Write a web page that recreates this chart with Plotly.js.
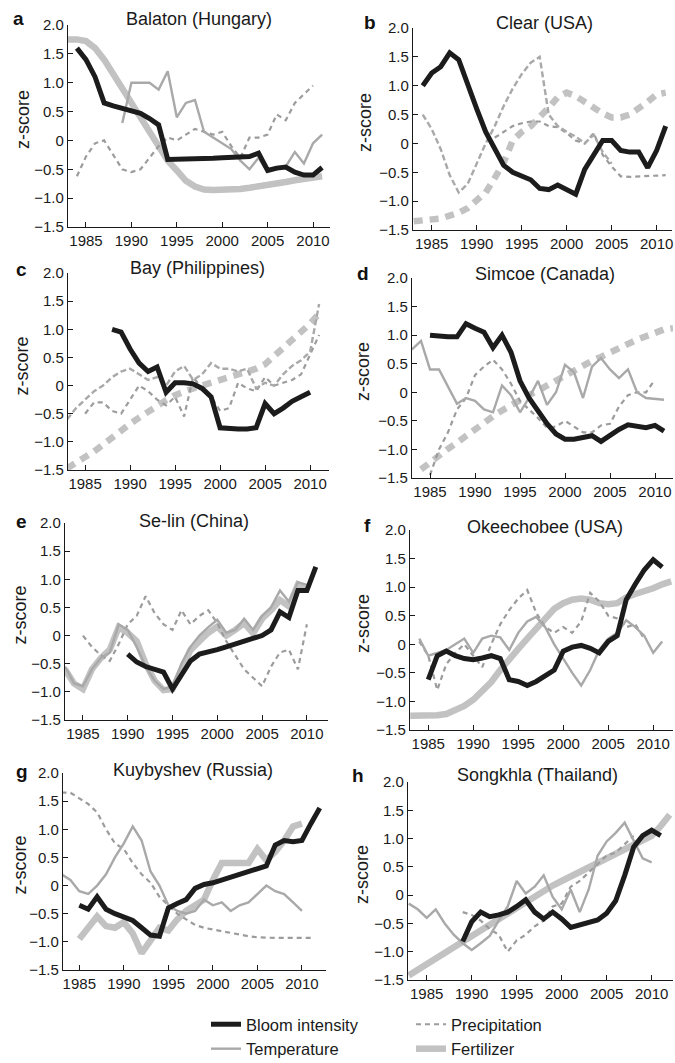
<!DOCTYPE html>
<html>
<head>
<meta charset="utf-8">
<script src="https://cdn.plot.ly/plotly-3.0.1.min.js"></script>
<style>html,body{margin:0;padding:0;background:#fff;}#chart{width:675px;height:1063px;}</style>
</head>
<body>
<div id="chart"></div>
<script>
// ---------------- DATA ----------------
const years = [1983,1984,1985,1986,1987,1988,1989,1990,1991,1992,
               1993,1994,1995,1996,1997,1998,1999,2000,2001,2002,
               2003,2004,2005,2006,2007,2008,2009,2010,2011,2012];
const xTickVals = [1985,1990,1995,2000,2005,2010];
const xTickText = ['1985','1990','1995','2000','2005','2010'];
const yTickVals = [-1.5,-1.0,-0.5,0,0.5,1.0,1.5,2.0];
const yTickText = ['\u22121.5','\u22121.0','\u22120.5','0','0.5','1.0','1.5','2.0'];
const seriesNames = ['Bloom intensity','Temperature','Precipitation','Fertilizer'];
const lakeTitles = ['Balaton (Hungary)','Clear (USA)','Bay (Philippines)','Simcoe (Canada)',
                    'Se-lin (China)','Okeechobee (USA)','Kuybyshev (Russia)','Songkhla (Thailand)'];
const panelLetters = ['a','b','c','d','e','f','g','h'];

const balatonBloom  = [null,1.6,1.4,1.1,0.65,0.6,0.55,0.52,0.47,0.38, 0.27,-0.33,-0.33,-0.32,-0.32,-0.31,-0.31,-0.3,-0.3,-0.29, -0.28,-0.22,-0.52,-0.48,-0.46,-0.55,-0.6,-0.6,-0.47,null];
const balatonTemp   = [null,null,null,null,null,null,0.3,1.0,1.0,1.0, 0.88,1.2,0.4,0.65,0.7,0.15,0.05,-0.05,-0.15,-0.35, -0.5,-0.3,-0.55,-0.5,-0.45,-0.2,-0.4,-0.05,0.1,null];
const balatonPrecip = [null,-0.62,-0.28,-0.05,0.0,-0.25,-0.5,-0.55,-0.5,-0.3, -0.1,0.05,0.0,0.1,0.2,0.15,0.1,0.15,-0.1,-0.3, 0.05,0.05,0.1,0.45,0.35,0.65,0.8,0.95,null,null];
const balatonFert   = [1.75,1.75,1.72,1.6,1.4,1.15,0.9,0.6,0.35,0.12, -0.1,-0.35,-0.52,-0.7,-0.8,-0.85,-0.86,-0.86,-0.85,-0.84, -0.82,-0.8,-0.77,-0.74,-0.72,-0.69,-0.67,-0.64,-0.62,null];

const clearBloom  = [null,1.0,1.22,1.33,1.57,1.45,1.0,0.6,0.2,-0.1, -0.38,-0.5,-0.57,-0.63,-0.78,-0.8,-0.72,-0.8,-0.88,-0.45, -0.2,0.05,0.05,-0.12,-0.15,-0.15,-0.42,-0.12,0.3,null];
const clearTemp   = [null,0.5,0.25,-0.1,-0.55,-0.85,-0.7,-0.35,0.0,0.3, 0.65,0.95,1.2,1.4,1.5,0.5,0.3,0.2,0.12,0.0, 0.15,-0.15,-0.35,null,null,null,null,null,null,null];
const clearPrecip = [null,null,null,null,null,null,null,null,null,0.1, 0.2,0.3,0.35,0.38,0.38,0.3,0.28,0.18,0.05,0.0, 0.18,-0.2,-0.4,-0.57,-0.58,-0.57,-0.57,-0.56,-0.55,null];
const clearFert   = [-1.35,-1.34,-1.32,-1.3,-1.25,-1.2,-1.12,-1.0,-0.85,-0.6, -0.33,0.05,0.2,0.3,0.45,0.62,0.8,0.88,0.82,0.72, 0.6,0.52,0.45,0.45,0.5,0.6,0.72,0.85,0.88,null];

const bayBloom  = [null,null,null,null,null,1.0,0.95,0.65,0.4,0.25, 0.33,-0.12,0.05,0.05,0.03,-0.05,-0.2,-0.75,-0.77,-0.77, -0.77,-0.75,-0.32,-0.5,-0.4,-0.28,-0.2,-0.12,null,null];
const bayTemp   = [-0.6,-0.4,-0.25,-0.1,0.0,0.15,0.25,0.3,0.2,0.1, 0.15,0.0,0.25,0.35,0.1,0.2,0.4,0.3,0.3,0.25, 0.3,-0.05,0.05,0.0,0.2,0.35,0.45,0.6,1.45,null];
const bayPrecip = [null,null,-0.5,-0.3,-0.3,-0.45,-0.5,-0.25,0.0,-0.1, -0.25,-0.35,-0.2,-0.55,0.15,-0.05,-0.2,-0.45,-0.4,0.05, -0.05,-0.1,0.15,0.0,0.05,0.1,0.2,0.55,0.9,null];
const bayFert   = [-1.47,-1.38,-1.28,-1.17,-1.05,-0.92,-0.8,-0.68,-0.57,-0.46, -0.35,-0.26,-0.17,-0.1,-0.05,0.0,0.05,0.09,0.13,0.17, 0.22,0.3,0.38,0.52,0.68,0.82,0.96,1.1,1.28,null];

const simcoeBloom  = [null,null,1.0,0.98,0.97,0.97,1.2,1.12,1.05,0.78, 1.0,0.7,0.2,-0.1,-0.32,-0.55,-0.73,-0.82,-0.82,-0.8, -0.76,-0.86,-0.75,-0.65,-0.57,-0.6,-0.62,-0.58,-0.68,null];
const simcoeTemp   = [0.75,0.9,0.4,0.4,0.1,-0.2,-0.1,-0.15,-0.3,-0.35, 0.12,-0.05,-0.35,-0.1,0.2,-0.22,0.0,0.48,0.35,-0.1, 0.45,0.6,0.4,0.25,0.4,0.0,-0.1,-0.12,-0.13,null];
const simcoePrecip = [null,null,-1.45,-1.0,-0.7,-0.3,-0.1,0.3,0.45,0.57, 0.4,0.15,-0.15,-0.3,-0.45,-0.62,-0.6,-0.5,-0.6,-0.7, -0.7,-0.58,-0.55,-0.25,-0.05,0.0,0.0,0.22,null,null];
const simcoeFert   = [null,-1.35,-1.22,-1.1,-0.99,-0.88,-0.76,-0.65,-0.53,-0.42, -0.32,-0.22,-0.13,-0.05,0.03,0.12,0.21,0.3,0.39,0.47, 0.55,0.62,0.7,0.78,0.85,0.92,0.98,1.05,1.1,1.12];

const selinBloom  = [null,null,null,null,null,null,null,-0.33,-0.47,-0.55, -0.6,-0.65,-0.95,-0.7,-0.45,-0.33,-0.3,-0.25,-0.2,-0.15, -0.1,-0.05,0.0,0.1,0.42,0.32,0.8,0.8,1.22,null];
const selinTemp   = [-0.55,-0.85,-0.9,-0.6,-0.4,-0.3,0.2,0.1,-0.2,-0.55, -0.8,-0.95,-0.9,-0.5,-0.2,0.0,0.15,0.28,0.05,0.1, 0.3,0.1,0.35,0.5,0.8,0.6,0.95,0.9,null,null];
const selinPrecip = [null,null,0.0,-0.2,-0.35,-0.45,-0.15,0.2,0.35,0.7, 0.4,0.2,0.1,0.45,0.2,0.35,0.45,0.22,-0.1,-0.35, -0.6,-0.75,-0.9,-0.55,-0.3,-0.25,-0.6,0.2,null,null];
const selinFert   = [-0.6,-0.85,-0.95,-0.6,-0.4,-0.25,0.15,0.05,-0.1,-0.5, -0.8,-0.97,-0.95,-0.6,-0.26,-0.1,0.05,0.16,0.0,0.1, 0.22,0.04,0.3,0.45,0.63,0.52,0.9,0.8,null,null];

const okeeBloom  = [null,null,-0.62,-0.2,-0.12,-0.2,-0.25,-0.27,-0.24,-0.2, -0.25,-0.62,-0.65,-0.72,-0.65,-0.55,-0.45,-0.12,-0.05,-0.02, -0.07,-0.15,0.05,0.15,0.78,1.05,1.3,1.48,1.35,null];
const okeeTemp   = [null,0.1,-0.2,-0.15,-0.1,0.0,0.1,-0.15,0.1,0.15, 0.12,-0.1,0.2,0.4,0.48,0.3,0.0,-0.25,-0.5,-0.72, -0.45,-0.1,0.1,0.2,0.42,0.3,0.15,-0.15,0.05,null];
const okeePrecip = [null,0.05,-0.2,-0.8,-0.35,-0.15,0.0,-0.2,-0.4,0.0, 0.35,0.6,0.8,0.95,0.55,0.3,0.2,0.3,0.2,0.4, 0.9,0.75,0.5,0.45,0.3,0.35,0.1,null,null,null];
const okeeFert   = [-1.25,-1.25,-1.25,-1.24,-1.22,-1.15,-1.08,-0.97,-0.82,-0.66, -0.45,-0.25,-0.08,0.1,0.28,0.46,0.62,0.72,0.78,0.8, 0.78,0.72,0.7,0.72,0.82,0.88,0.92,0.98,1.05,1.1];

const kuybBloom  = [null,null,-0.35,-0.42,-0.2,-0.42,-0.5,-0.55,-0.62,-0.75, -0.88,-0.9,-0.4,-0.32,-0.25,-0.05,0.02,0.05,0.1,0.15, 0.2,0.25,0.3,0.35,0.72,0.8,0.78,0.8,1.1,1.38];
const kuybTemp   = [0.2,0.1,-0.1,-0.15,0.0,0.2,0.5,0.75,1.05,0.8, 0.25,0.0,-0.35,-0.45,-0.5,-0.45,-0.25,-0.35,-0.3,-0.45, -0.35,-0.3,-0.15,0.0,-0.1,-0.15,-0.3,-0.45,null,null];
const kuybPrecip = [1.65,1.65,1.55,1.45,1.3,1.0,0.75,0.65,0.4,0.2, 0.05,-0.2,-0.35,-0.5,-0.6,-0.7,-0.75,-0.78,-0.82,-0.85, -0.88,-0.9,-0.92,-0.93,-0.93,-0.93,-0.93,-0.93,-0.93,null];
const kuybFert   = [null,null,-0.95,-0.75,-0.55,-0.72,-0.75,-0.65,-0.85,-1.2, -0.95,-0.75,-0.8,-0.6,-0.45,-0.35,-0.25,0.1,0.4,0.4, 0.4,0.4,0.65,0.45,0.6,0.8,1.05,1.1,null,null];

const songBloom  = [null,null,null,null,null,null,-0.82,-0.47,-0.3,-0.38, -0.35,-0.3,-0.2,-0.08,-0.3,-0.42,-0.3,-0.42,-0.57,-0.52, -0.47,-0.44,-0.32,-0.1,0.35,0.85,1.05,1.15,1.05,null];
const songTemp   = [-0.15,-0.25,-0.4,-0.25,-0.5,-0.7,-0.85,-0.97,-0.85,-0.72, -0.45,-0.2,0.25,0.03,0.15,0.35,-0.03,-0.25,0.1,-0.3, 0.1,0.7,0.95,1.1,1.28,0.95,0.65,0.58,null,null];
const songPrecip = [null,null,null,null,null,null,-0.3,-0.35,-0.45,-0.6, -0.7,-1.0,-0.8,-0.7,-0.55,-0.45,-0.2,-0.15,0.15,0.25, 0.4,0.55,0.7,0.75,0.9,1.05,null,null,null,null];
const songFert   = [-1.42,-1.32,-1.22,-1.12,-1.02,-0.91,-0.8,-0.7,-0.6,-0.5, -0.4,-0.3,-0.2,-0.1,0.0,0.08,0.17,0.25,0.33,0.4, 0.48,0.56,0.63,0.7,0.78,0.88,0.97,1.05,1.22,1.42];

const lakeSeries = [
  [balatonBloom, balatonTemp, balatonPrecip, balatonFert],
  [clearBloom, clearTemp, clearPrecip, clearFert],
  [bayBloom, bayTemp, bayPrecip, bayFert],
  [simcoeBloom, simcoeTemp, simcoePrecip, simcoeFert],
  [selinBloom, selinTemp, selinPrecip, selinFert],
  [okeeBloom, okeeTemp, okeePrecip, okeeFert],
  [kuybBloom, kuybTemp, kuybPrecip, kuybFert],
  [songBloom, songTemp, songPrecip, songFert]
];

// ---------------- LAYOUT CONSTANTS (pixels) ----------------
const W = 675, H = 1063;
const FONT = '"Liberation Sans", Arial, Helvetica, sans-serif';
const geom = [
  {x0:68,  x1:330, top:25,  bot:227, r:[1983.02,2011.87], tx:199, ty:19,  lx:18,  ly:19,  zx:23,  fd:false},
  {x0:413, x1:672, top:28,  bot:230, r:[1982.92,2011.7],  tx:544, ty:23,  lx:370, ly:22,  zx:365, fd:true},
  {x0:68,  x1:329, top:273, bot:470, r:[1983.1,2012.1],   tx:197, ty:268, lx:22,  ly:269, zx:22,  fd:true},
  {x0:412, x1:673, top:278, bot:478, r:[1983.0,2012.0],   tx:545, ty:274, lx:363, ly:273, zx:363, fd:true},
  {x0:65,  x1:328, top:523, bot:720, r:[1983.0,2012.36],  tx:194, ty:521, lx:22,  ly:521, zx:20,  fd:false},
  {x0:410, x1:673, top:530, bot:730, r:[1982.97,2012.2],  tx:545, ty:527, lx:367, ly:525, zx:363, fd:false},
  {x0:63,  x1:326, top:773, bot:970, r:[1983.17,2012.7],  tx:193, ty:770, lx:22,  ly:771, zx:20,  fd:false},
  {x0:408, x1:673, top:782, bot:980, r:[1982.92,2012.37], tx:537, ty:775, lx:358, ly:775, zx:362, fd:false}
];

const traces = [];
const legendFont = {family:FONT, size:16.5, color:'#1a1a1a'};
const layout = {
  width: W, height: H,
  margin: {l:0, r:0, t:0, b:0, autoexpand:false},
  paper_bgcolor: '#ffffff', plot_bgcolor: '#ffffff',
  font: {family: FONT, color: '#1a1a1a', size: 15},
  showlegend: true,
  annotations: [],
  legend: {x: 206/W, y: 1 - 1007/H, xanchor:'left', yanchor:'top', bgcolor:'rgba(0,0,0,0)',
           font: legendFont, tracegroupgap:0, itemwidth:30, traceorder:'normal'},
  legend2: {x: 411/W, y: 1 - 1007/H, xanchor:'left', yanchor:'top', bgcolor:'rgba(0,0,0,0)',
           font: legendFont, tracegroupgap:0, itemwidth:30, traceorder:'normal'}
};

geom.forEach((g, i) => {
  const n = i === 0 ? '' : String(i + 1);
  const xa = 'xaxis' + n, ya = 'yaxis' + n;
  layout[xa] = {
    domain: [g.x0 / W, g.x1 / W], range: g.r, anchor: 'y' + n,
    showgrid:false, zeroline:false, showline:true, linecolor:'#1a1a1a', linewidth:1.2,
    ticks:'inside', ticklen:5, tickcolor:'#1a1a1a', tickvals: xTickVals, ticktext: xTickText,
    tickfont:{family:FONT, size:15, color:'#1a1a1a'}, fixedrange:true
  };
  layout[ya] = {
    domain: [1 - g.bot / H, 1 - g.top / H], range: [-1.5, 2.0], anchor: 'x' + n,
    showgrid:false, zeroline:false, showline:true, linecolor:'#1a1a1a', linewidth:1.2,
    ticks:'inside', ticklen:5, tickcolor:'#1a1a1a', tickvals: yTickVals, ticktext: yTickText,
    tickfont:{family:FONT, size:15, color:'#1a1a1a'}, fixedrange:true
  };
  const s = lakeSeries[i];
  const xr = 'x' + n, yr = 'y' + n;
  // drawing order: fertilizer, precipitation, temperature, bloom (on top)
  traces.push({x: years, y: s[3], xaxis:xr, yaxis:yr, type:'scatter', mode:'lines', name: seriesNames[3],
    line:{color:'#c2c2c2', width:6.5, dash: g.fd ? '9px,7px' : 'solid'}, connectgaps:false,
    showlegend: i === 0, legend:'legend2', legendrank: 2, hoverinfo:'skip'});
  traces.push({x: years, y: s[2], xaxis:xr, yaxis:yr, type:'scatter', mode:'lines', name: seriesNames[2],
    line:{color:'#9c9c9c', width:2.2, dash:'5px,4px'}, connectgaps:false,
    showlegend: i === 0, legend:'legend2', legendrank: 1, hoverinfo:'skip'});
  traces.push({x: years, y: s[1], xaxis:xr, yaxis:yr, type:'scatter', mode:'lines', name: seriesNames[1],
    line:{color:'#a9a9a9', width:2.4, dash: (i === 1 || i === 2) ? '6px,3px' : 'solid'}, connectgaps:false,
    showlegend: i === 0, legend:'legend', legendrank: 2, hoverinfo:'skip'});
  traces.push({x: years, y: s[0], xaxis:xr, yaxis:yr, type:'scatter', mode:'lines', name: seriesNames[0],
    line:{color:'#1c1c1c', width:5}, connectgaps:false,
    showlegend: i === 0, legend:'legend', legendrank: 1, hoverinfo:'skip'});

  // title
  layout.annotations.push({xref:'paper', yref:'paper', x: g.tx / W, y: 1 - g.ty / H, xanchor:'center', yanchor:'middle',
    text: lakeTitles[i], showarrow:false, font:{family:FONT, size:18, color:'#1a1a1a'}});
  // panel letter
  layout.annotations.push({xref:'paper', yref:'paper', x: g.lx / W, y: 1 - g.ly / H, xanchor:'center', yanchor:'middle',
    text: '<b>' + panelLetters[i] + '</b>', showarrow:false, font:{family:FONT, size:19, color:'#111'}});
  // y label
  const zy = g.top + 0.47 * (g.bot - g.top);
  layout.annotations.push({xref:'paper', yref:'paper', x: g.zx / W, y: 1 - zy / H, xanchor:'center', yanchor:'middle',
    text: 'z-score', textangle: -90, showarrow:false, font:{family:FONT, size:18, color:'#1a1a1a'}});
});

Plotly.newPlot('chart', traces, layout, {staticPlot:true, displayModeBar:false});
</script>
</body>
</html>
